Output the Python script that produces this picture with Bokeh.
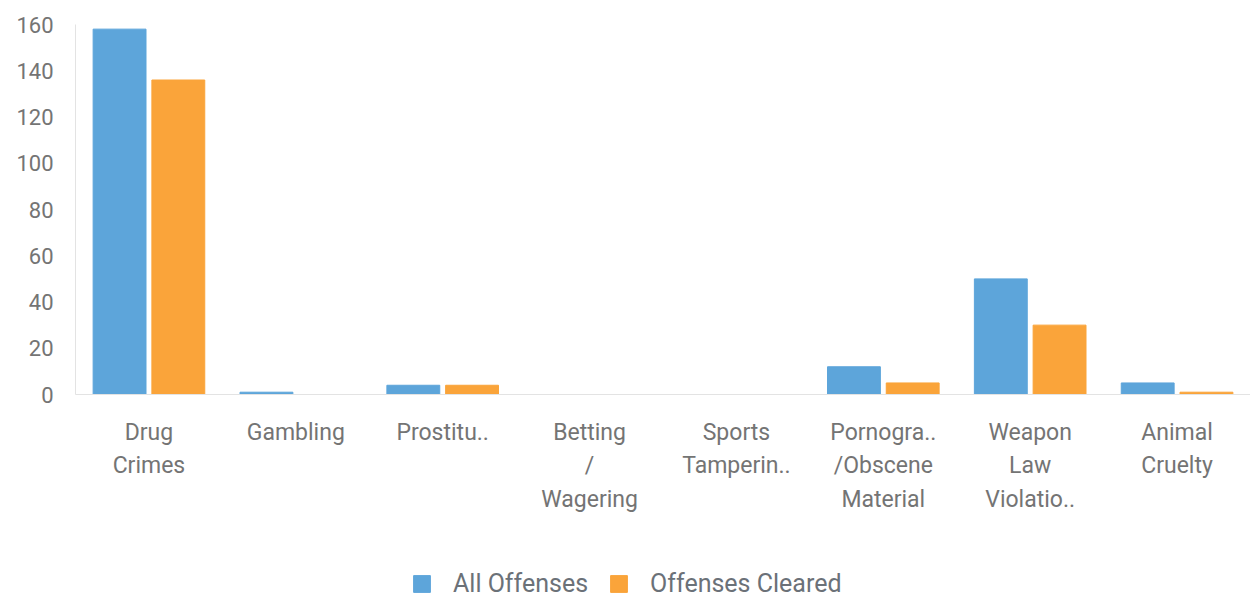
from bokeh.plotting import figure
from bokeh.layouts import column
from bokeh.models import ColumnDataSource, Legend, LegendItem, Range1d, FactorRange
from bokeh.transform import dodge
from bokeh.embed import file_html
from bokeh.resources import INLINE

categories = ["Drug\nCrimes", "Gambling", "Prostitu..", "Betting\n/\nWagering",
              "Sports\nTamperin..", "Pornogra..\n/Obscene\nMaterial",
              "Weapon\nLaw\nViolatio..", "Animal\nCruelty"]
all_offenses = [158, 1, 4, 0, 0, 12, 50, 5]
offenses_cleared = [136, 0, 4, 0, 0, 5, 30, 1]
y_ticks = [0, 20, 40, 60, 80, 100, 120, 140, 160]
series_names = ["All Offenses", "Offenses Cleared"]

BLUE = "#5da5da"
ORANGE = "#faa43a"
FONT = "Roboto"

src = ColumnDataSource(dict(cat=categories, a=all_offenses, c=offenses_cleared))

p = figure(x_range=FactorRange(factors=categories, range_padding=0),
           y_range=Range1d(0, 160),
           width=1250, height=550, output_backend="svg", toolbar_location=None,
           min_border_left=75, min_border_right=0, min_border_top=24, min_border_bottom=156)

p.vbar(x=dodge("cat", -0.2, range=p.x_range), top="a", width=0.36, source=src,
       fill_color=BLUE, line_color=BLUE)
p.vbar(x=dodge("cat", 0.2, range=p.x_range), top="c", width=0.36, source=src,
       fill_color=ORANGE, line_color=ORANGE)

p.xgrid.visible = False
p.ygrid.visible = False
p.outline_line_color = None

p.yaxis.ticker = y_ticks
for ax in (p.xaxis[0], p.yaxis[0]):
    ax.axis_line_color = "#e3e3e3"
    ax.major_tick_line_color = None
    ax.minor_tick_line_color = None
    ax.major_tick_out = 0
    ax.major_label_text_font = FONT
    ax.major_label_text_color = "#747474"
p.yaxis.major_label_text_font_size = "22px"
p.xaxis.major_label_text_font_size = "23px"
p.yaxis.major_label_standoff = 22
p.xaxis.major_label_standoff = 24
p.xaxis.major_label_text_line_height = 1.25

# legend strip below the chart (the keyed bars sit far outside its visible range)
lg = figure(width=1250, height=52, x_range=Range1d(0, 1250), y_range=Range1d(0, 52),
            output_backend="svg", toolbar_location=None,
            min_border=0, min_border_left=0, min_border_right=0,
            min_border_top=0, min_border_bottom=0)
lg.axis.visible = False
lg.grid.visible = False
lg.outline_line_color = None
la = lg.vbar(x=[-5000], top=[-5000], bottom=-5001, width=1, fill_color=BLUE, line_color=BLUE)
lc = lg.vbar(x=[-5000], top=[-5000], bottom=-5001, width=1, fill_color=ORANGE, line_color=ORANGE)

legend = Legend(items=[LegendItem(label=series_names[0], renderers=[la]),
                       LegendItem(label=series_names[1], renderers=[lc])],
                orientation="horizontal", location=(336, 4),
                label_text_font=FONT, label_text_font_size="25px",
                label_text_color="#6b7178", glyph_width=21, glyph_height=21,
                label_standoff=21, spacing=20, border_line_color=None,
                background_fill_alpha=0, margin=0, padding=0)
lg.add_layout(legend, "center")

layout = column(p, lg, spacing=0)
open("out.html", "w").write(file_html(layout, INLINE))
